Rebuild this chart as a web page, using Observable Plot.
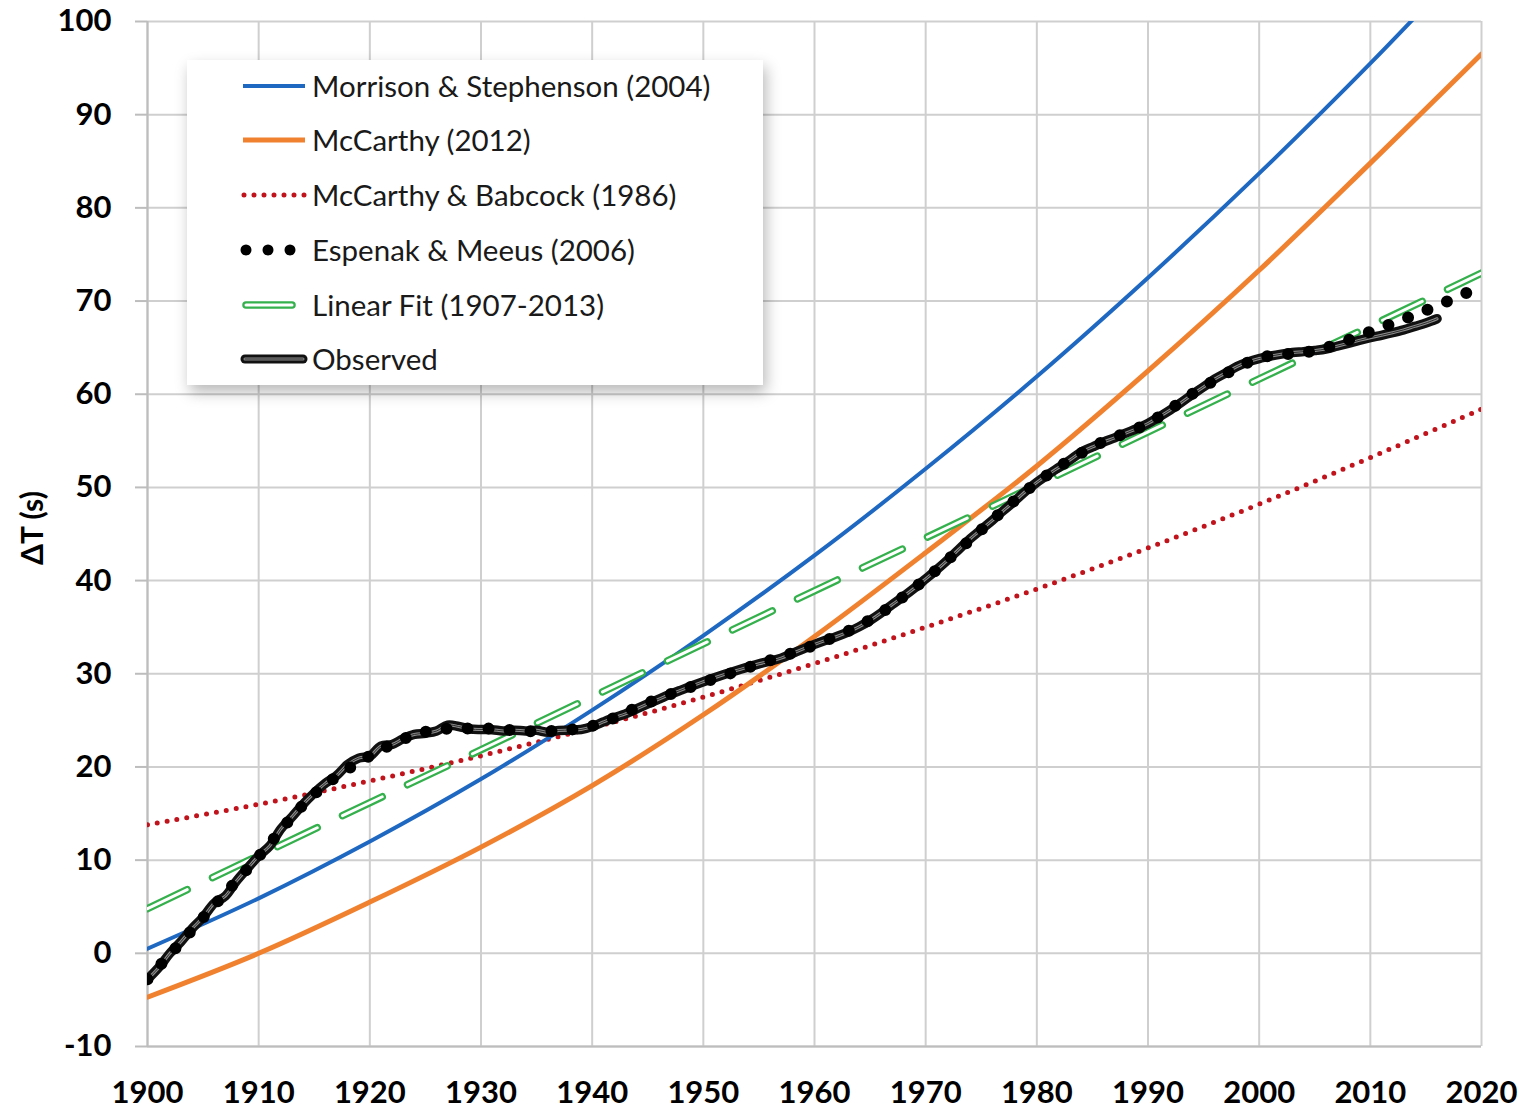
<!DOCTYPE html>
<html>
<head>
<meta charset="utf-8">
<script src="https://cdn.jsdelivr.net/npm/d3@7"></script>
<script src="https://cdn.jsdelivr.net/npm/@observablehq/plot@0.6"></script>
<style>
  body { margin: 0; background: #fff; }
  #wrap { position: relative; width: 1524px; height: 1113px; font-family: Lato, "Open Sans", sans-serif; }
  #ylab { position: absolute; left: 31px; top: 528px; transform: translate(-50%, -50%) rotate(-90deg);
          font-weight: bold; font-size: 30px; white-space: nowrap; color: #000; }
  #legend { position: absolute; left: 187px; top: 60px; width: 576px; height: 325px; background: #fff;
            box-shadow: 3px 7px 14px rgba(0,0,0,0.28); }
  .sw { position: absolute; left: 54px; width: 70px; height: 20px; overflow: visible; }
  .lt { position: absolute; left: 125px; font-size: 29.5px; line-height: 40px; height: 40px; color: #1a1a1a; white-space: nowrap; }
</style>
</head>
<body>
<div id="wrap">
  <div id="chart"></div>
  <div id="ylab">ΔT (s)</div>
  <div id="legend"></div>
</div>
<script>
// ---------- data ----------
const xTicks = [1900, 1910, 1920, 1930, 1940, 1950, 1960, 1970, 1980, 1990, 2000, 2010, 2020];
const yTicks = [-10, 0, 10, 20, 30, 40, 50, 60, 70, 80, 90, 100];

const decadeYears = [1900, 1910, 1920, 1930, 1940, 1950, 1960, 1970, 1980, 1990, 2000, 2010, 2020];
const morrison2004 = [0.5, 5.9, 12.0, 18.7, 26.1, 34.1, 42.7, 52.0, 61.9, 72.5, 83.7, 95.5, 108.0];
const mccarthy2012 = [-4.7, 0.0, 5.5, 11.4, 18.0, 25.6, 34.0, 43.0, 52.3, 62.5, 73.3, 84.8, 96.5];
const mccarthyBabcock1986 = [13.8, 16.0, 18.5, 21.2, 24.2, 27.5, 31.1, 35.0, 39.1, 43.5, 48.2, 53.2, 58.4];

const espenakYears = [1900, 1905, 1910, 1915, 1920, 1925, 1930, 1935, 1940, 1945, 1950, 1955, 1960,
                      1965, 1970, 1975, 1980, 1985, 1990, 1995, 2000, 2005, 2010, 2015, 2020];
const espenakMeeus2006 = [-2.79, 3.83, 10.39, 17.08, 21.18, 23.78, 24.13, 23.82, 24.41, 26.88, 29.07, 31.05, 33.10,
                          35.79, 40.19, 45.45, 50.52, 54.34, 56.89, 60.80, 63.86, 64.67, 66.70, 69.00, 71.60];

const linearFitYears = [1900, 2020];
const linearFit = [4.8, 73.0];

const observedStartYear = 1900;
const observed = [
  -2.79, -1.54, -0.02, 1.24, 2.64, 3.86, 5.37, 6.14, 7.75, 9.13,
  10.46, 11.53, 13.36, 14.65, 16.01, 17.20, 18.24, 19.06, 20.25, 20.95,
  21.16, 22.25, 22.41, 23.03, 23.49, 23.62, 23.86, 24.49, 24.34, 24.08,
  24.02, 24.00, 23.87, 23.95, 23.86, 23.93, 23.73, 23.92, 23.96, 24.02,
  24.33, 24.83, 25.30, 25.70, 26.24, 26.77, 27.28, 27.78, 28.25, 28.71,
  29.15, 29.57, 29.97, 30.36, 30.72, 31.07, 31.35, 31.68, 32.18, 32.68,
  33.15, 33.59, 34.00, 34.47, 35.03, 35.73, 36.54, 37.43, 38.29, 39.20,
  40.18, 41.17, 42.23, 43.37, 44.49, 45.48, 46.46, 47.52, 48.53, 49.59,
  50.54, 51.38, 52.17, 52.96, 53.79, 54.34, 54.87, 55.32, 55.82, 56.30,
  56.86, 57.57, 58.31, 59.12, 59.98, 60.78, 61.63, 62.29, 62.97, 63.47,
  63.83, 64.09, 64.30, 64.47, 64.57, 64.69, 64.85, 65.15, 65.46, 65.78,
  66.07, 66.32, 66.60, 66.91, 67.28, 67.64, 68.10
];

const seriesNames = ["Morrison & Stephenson (2004)", "McCarthy (2012)", "McCarthy & Babcock (1986)",
                     "Espenak & Meeus (2006)", "Linear Fit (1907-2013)", "Observed"];
const colors = { blue: "#1f68c2", orange: "#f0822f", red: "#c0131c", green: "#34b04c", black: "#000000" };

// ---------- build tables ----------
const pts = (xs, ys) => xs.map((x, i) => ({ year: x, dt: ys[i] }));
const msData = pts(decadeYears, morrison2004);
const mcData = pts(decadeYears, mccarthy2012);
const mbData = pts(decadeYears, mccarthyBabcock1986);
const emData = pts(espenakYears, espenakMeeus2006);
const lfData = pts(linearFitYears, linearFit);
const obData = observed.map((v, i) => ({ year: observedStartYear + i, dt: v }));

const L = (data, o) => Plot.line(data, { x: "year", y: "dt", curve: "catmull-rom", clip: true, ...o });

const chart = Plot.plot({
  width: 1524, height: 1113,
  marginLeft: 147, marginRight: 43, marginTop: 21, marginBottom: 67,
  style: { fontFamily: "Lato, 'Open Sans', sans-serif", fontSize: "31px", fontWeight: "bold", color: "#000", background: "transparent" },
  x: { domain: [1900, 2020] },
  y: { domain: [-10, 100] },
  marks: [
    Plot.gridX(xTicks, { stroke: "#cfcfcf", strokeOpacity: 1, strokeWidth: 2 }),
    Plot.gridY(yTicks, { stroke: "#cfcfcf", strokeOpacity: 1, strokeWidth: 2 }),
    Plot.ruleY([-10], { stroke: "#bdbdbd", strokeWidth: 2 }),
    Plot.ruleX([1900], { stroke: "#bdbdbd", strokeWidth: 2 }),
    Plot.axisX(xTicks, { tickSize: 0, tickPadding: 34, tickFormat: d => String(d), label: null }),
    Plot.axisY(yTicks, { tickSize: 12, tickPadding: 24, stroke: "#bdbdbd", strokeWidth: 2, tickFormat: d => String(d), label: null }),
    L(mbData, { stroke: colors.red, strokeWidth: 5, strokeDasharray: "0,10", strokeLinecap: "round" }),
    L(msData, { stroke: colors.blue, strokeWidth: 4 }),
    L(mcData, { stroke: colors.orange, strokeWidth: 5 }),
    L(lfData, { curve: "linear", stroke: colors.green, strokeWidth: 7.5, strokeDasharray: "44,28", strokeLinecap: "round" }),
    L(lfData, { curve: "linear", stroke: "#ffffff", strokeWidth: 3, strokeDasharray: "44,28", strokeLinecap: "round" }),
    L(obData, { stroke: "#111111", strokeWidth: 9.5, strokeLinejoin: "round" }),
    L(obData, { stroke: "#8c8c8c", strokeWidth: 3, strokeLinejoin: "round" }),
    L(obData, { stroke: "#2a2a2a", strokeWidth: 1, strokeLinejoin: "round" }),
    L(emData, { stroke: colors.black, strokeWidth: 12, strokeDasharray: "0,21", strokeLinecap: "round" })
  ]
});
document.getElementById("chart").appendChild(chart);

// ---------- legend ----------
const legend = document.getElementById("legend");
const rowCenters = [26, 80, 135, 190, 245, 299];
const swatches = [
  `<line x1="2" y1="10" x2="64" y2="10" stroke="${colors.blue}" stroke-width="4"/>`,
  `<line x1="2" y1="10" x2="64" y2="10" stroke="${colors.orange}" stroke-width="5"/>`,
  `<line x1="3" y1="10" x2="64" y2="10" stroke="${colors.red}" stroke-width="5" stroke-dasharray="0,10" stroke-linecap="round"/>`,
  `<line x1="5" y1="10" x2="52" y2="10" stroke="#000" stroke-width="11" stroke-dasharray="0,22" stroke-linecap="round"/>`,
  `<line x1="5" y1="10" x2="51" y2="10" stroke="${colors.green}" stroke-width="7.5" stroke-linecap="round"/><line x1="5" y1="10" x2="51" y2="10" stroke="#fff" stroke-width="3" stroke-linecap="round"/>`,
  `<line x1="4" y1="10" x2="62" y2="10" stroke="#111" stroke-width="9" stroke-linecap="round"/><line x1="4" y1="10" x2="62" y2="10" stroke="#8c8c8c" stroke-width="3" stroke-linecap="round"/><line x1="4" y1="10" x2="62" y2="10" stroke="#2a2a2a" stroke-width="1" stroke-linecap="round"/>`
];
seriesNames.forEach((name, i) => {
  const c = rowCenters[i];
  legend.insertAdjacentHTML("beforeend",
    `<svg class="sw" style="top:${c - 10}px" viewBox="0 0 70 20">${swatches[i]}</svg>` +
    `<div class="lt" style="top:${c - 20}px">${name.replace(/&/g, "&amp;")}</div>`);
});
</script>
</body>
</html>
